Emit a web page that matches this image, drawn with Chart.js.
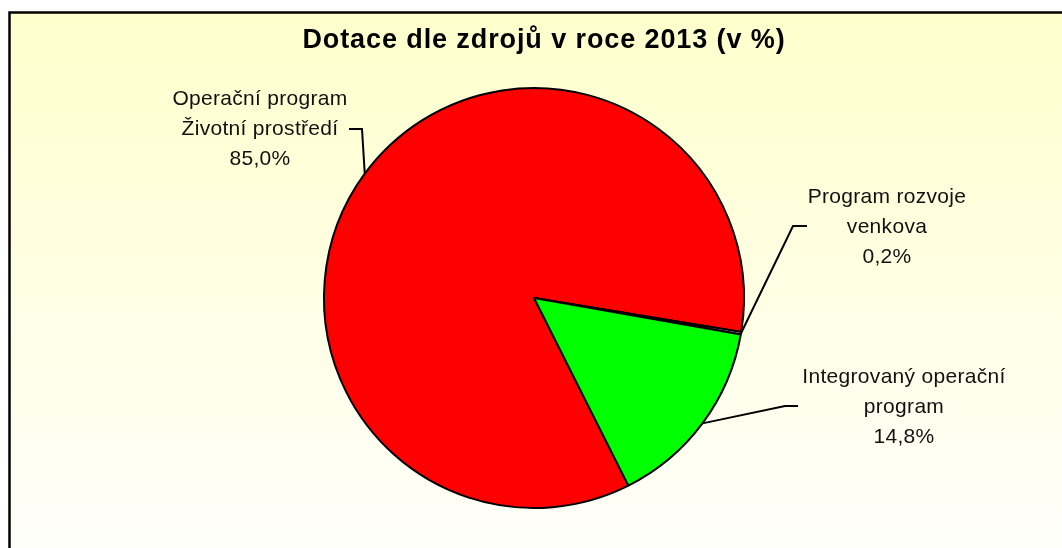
<!DOCTYPE html>
<html><head><meta charset="utf-8">
<script src="https://cdn.jsdelivr.net/npm/chart.js@4.4.0/dist/chart.umd.min.js"></script>
<style>html,body{margin:0;padding:0;background:#fff;overflow:hidden}#wrap{width:1062px;height:548px;position:relative}</style>
</head><body><div id="wrap"><canvas id="c" width="1062" height="548"></canvas></div>
<script>
const titleText = 'Dotace dle zdrojů v roce 2013 (v %)';
const categories = [['Operační program', 'Životní prostředí'], ['Program rozvoje', 'venkova'], ['Integrovaný operační', 'program']];
const values = [85.0, 0.2, 14.8];
const valueLabels = ['85,0%', '0,2%', '14,8%'];
const colors = ['#FF0000', '#FFFFCC', '#00FF00'];

// label placement (layout only)
const labelLayout = [
  {cx: 260, baseY: 105, hStart: [349, 129], elbow: [362, 129]},
  {cx: 887, baseY: 203, hStart: [807, 226], elbow: [793, 226]},
  {cx: 904, baseY: 383, hStart: [798, 406], elbow: [785, 406]}
];

const framePlugin = {
  id: 'frame',
  beforeDraw(chart) {
    const ctx = chart.ctx;
    ctx.save();
    const g = ctx.createLinearGradient(0, 12, 0, 600);
    g.addColorStop(0, '#FFFFCC');
    g.addColorStop(1, '#FFFFFF');
    ctx.fillStyle = g;
    ctx.fillRect(9, 13, 1100, 600);
    ctx.strokeStyle = '#000';
    ctx.lineWidth = 2.5;
    ctx.beginPath();
    ctx.moveTo(9.5, 600); ctx.lineTo(9.5, 12.5); ctx.lineTo(1100, 12.5);
    ctx.stroke();
    // title
    ctx.fillStyle = '#000';
    ctx.font = 'bold 27px "Liberation Sans", Arial, sans-serif';
    ctx.letterSpacing = '0.9px';
    ctx.textAlign = 'center';
    ctx.textBaseline = 'alphabetic';
    ctx.fillText(titleText, 544, 48);
    ctx.restore();
  }
};

const labelPlugin = {
  id: 'labels',
  afterDatasetsDraw(chart) {
    const ctx = chart.ctx;
    const meta = chart.getDatasetMeta(0);
    ctx.save();
    meta.data.forEach((arc, i) => {
      const L = labelLayout[i];
      const p = arc.getProps(['x', 'y', 'startAngle', 'endAngle', 'outerRadius'], true);
      const mid = (p.startAngle + p.endAngle) / 2;
      const ex = p.x + Math.cos(mid) * p.outerRadius;
      const ey = p.y + Math.sin(mid) * p.outerRadius;
      ctx.strokeStyle = '#000';
      ctx.lineWidth = 2;
      ctx.beginPath();
      ctx.moveTo(L.hStart[0], L.hStart[1]);
      ctx.lineTo(L.elbow[0], L.elbow[1]);
      ctx.lineTo(ex, ey);
      ctx.stroke();
      ctx.fillStyle = '#111';
      ctx.font = '21px "Liberation Sans", Arial, sans-serif';
      ctx.letterSpacing = '0.3px';
      ctx.textAlign = 'center';
      ctx.textBaseline = 'alphabetic';
      const lines = categories[i].concat([valueLabels[i]]);
      lines.forEach((t, k) => ctx.fillText(t, L.cx, L.baseY + k * 30));
    });
    ctx.restore();
  }
};

new Chart(document.getElementById('c'), {
  type: 'pie',
  data: {
    labels: categories.map(c => c.join(' ')),
    datasets: [{
      data: values,
      backgroundColor: colors,
      borderColor: '#000',
      borderWidth: 2
    }]
  },
  options: {
    responsive: false,
    animation: false,
    rotation: 153.3,
    layout: {padding: {left: 323, right: 317, top: 87, bottom: 39}},
    plugins: {legend: {display: false}, tooltip: {enabled: false}, title: {display: false}}
  },
  plugins: [framePlugin, labelPlugin]
});
</script>
</body></html>
